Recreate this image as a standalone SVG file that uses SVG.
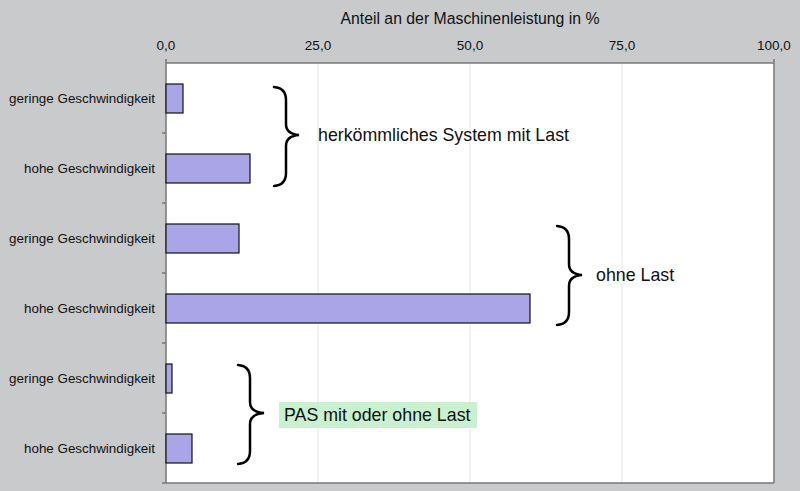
<svg xmlns="http://www.w3.org/2000/svg" width="800" height="491" viewBox="0 0 800 491">
<style>
text{font-family:"Liberation Sans",Arial,sans-serif;fill:#111}
.cat{font-size:13.4px;text-anchor:end}
.tk{font-size:13.5px;text-anchor:middle}
.bar{fill:#a9a5e6;stroke:#111;stroke-width:1.2}
.grid{stroke:#e6e6e6;stroke-width:1}
.brace{fill:none;stroke:#000;stroke-width:2.5;stroke-linecap:round}
.lab{font-size:17.8px}
</style>
<rect width="800" height="491" fill="#c9cacc"/>
<rect x="166" y="63" width="608" height="420" fill="#fff"/>
<g id="grid">
<line class="grid" x1="318" y1="63" x2="318" y2="483"/>
<line class="grid" x1="470" y1="63" x2="470" y2="483"/>
<line class="grid" x1="622" y1="63" x2="622" y2="483"/>
</g>
<g id="axes" stroke="#777" stroke-width="1.5">
<line x1="166" y1="63" x2="774" y2="63"/>
<line x1="166" y1="59" x2="166" y2="483"/>
<line x1="774" y1="59" x2="774" y2="483"/>
<line x1="166" y1="483" x2="774" y2="483"/>
<line x1="162" y1="133" x2="166" y2="133"/>
<line x1="162" y1="203" x2="166" y2="203"/>
<line x1="162" y1="273" x2="166" y2="273"/>
<line x1="162" y1="343" x2="166" y2="343"/>
<line x1="162" y1="413" x2="166" y2="413"/>
<line x1="162" y1="483" x2="166" y2="483"/>
</g>
<text x="470" y="24" font-size="15.8" text-anchor="middle">Anteil an der Maschinenleistung in %</text>
<g id="ticks">
<text class="tk" x="166" y="50">0,0</text>
<text class="tk" x="318" y="50">25,0</text>
<text class="tk" x="470" y="50">50,0</text>
<text class="tk" x="622" y="50">75,0</text>
<text class="tk" x="774" y="50">100,0</text>
</g>
<g id="categories">
<text class="cat" x="155" y="103">geringe Geschwindigkeit</text>
<text class="cat" x="155" y="173">hohe Geschwindigkeit</text>
<text class="cat" x="155" y="243">geringe Geschwindigkeit</text>
<text class="cat" x="155" y="313">hohe Geschwindigkeit</text>
<text class="cat" x="155" y="383">geringe Geschwindigkeit</text>
<text class="cat" x="155" y="453">hohe Geschwindigkeit</text>
</g>
<g id="bars">
<rect class="bar" x="166" y="84" width="17" height="29"/>
<rect class="bar" x="166" y="154" width="84" height="29"/>
<rect class="bar" x="166" y="224" width="73" height="29"/>
<rect class="bar" x="166" y="294" width="364" height="29"/>
<rect class="bar" x="166" y="364" width="6" height="29"/>
<rect class="bar" x="166" y="434" width="26" height="29"/>
</g>
<g id="group1">
<path class="brace" d="M274,87 Q286,88 286,100 L286,124 Q286,134 299,135 Q286,136 286,146 L286,173 Q286,185 274,186"/>
<text class="lab" x="318" y="141">herkömmliches System mit Last</text>
</g>
<g id="group2">
<path class="brace" d="M557,226 Q569,227 569,239 L569,264 Q569,274 582,275 Q569,276 569,286 L569,312 Q569,324 557,325"/>
<text class="lab" x="596" y="281">ohne Last</text>
</g>
<g id="group3">
<path class="brace" d="M238,365 Q250,366 250,378 L250,402 Q250,412 264,413 Q250,414 250,424 L250,451 Q250,463 238,464"/>
<rect x="279" y="402" width="198" height="26" fill="#c9f0cf"/>
<text class="lab" x="284" y="421">PAS mit oder ohne Last</text>
</g>
</svg>
